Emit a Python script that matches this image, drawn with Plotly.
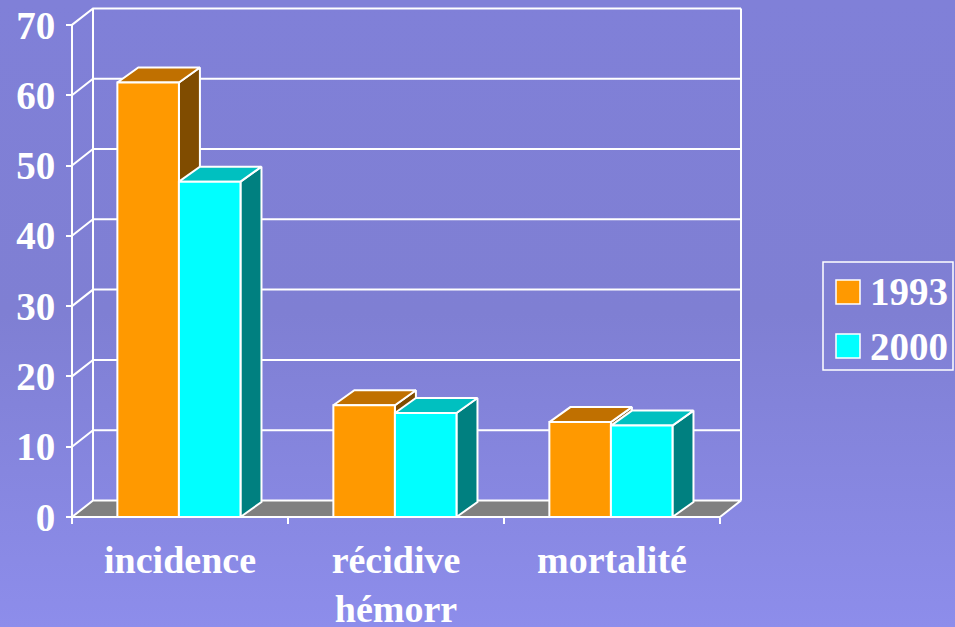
import base64

import plotly.graph_objects as go

categories = ['incidence', 'récidive<br>hémorr', 'mortalité']
series_names = ['1993', '2000']
values_1993 = [61.8, 15.9, 13.5]
values_2000 = [47.7, 14.8, 13.0]
y_ticks = [0, 10, 20, 30, 40, 50, 60, 70]

front_colors = ['#FF9900', '#00FFFF']
top_colors = ['#C07000', '#00C0C0']
side_colors = ['#804C00', '#008080']

W, H = 955, 627
ML, MR, MT, MB = 69, 211, 5, 107
PW, PH = W - ML - MR, H - MT - MB
PX_X = 216.0   # pixels per category
PX_Y = 7.03    # pixels per value unit
PAD = 3

# pseudo-3D depth, in axis units
wall_dx, wall_dy = 21 / PX_X, 16.5 / PX_Y
bar_dx, bar_dy = 21 / PX_X, 15 / PX_Y
bar_w = 0.285
group_shift = -0.005

x0 = -0.5 - PAD / PX_X
y0 = -PAD / PX_Y
x_range = [x0, x0 + PW / PX_X]
y_range = [y0, y0 + PH / PX_Y]
n = len(categories)
ymax = y_ticks[-1]


def px_x(p):
    return (p - ML) / PW


def px_y(p):
    return (H - MB - p) / PH


fig = go.Figure()

# back wall, left wall and grid
wx, wy = [], []
for v in y_ticks[1:]:
    wx += [-0.5, -0.5 + wall_dx, n - 0.5 + wall_dx, None]
    wy += [v, v + wall_dy, v + wall_dy, None]
wx += [-0.5 + wall_dx, -0.5 + wall_dx, None, n - 0.5 + wall_dx, n - 0.5 + wall_dx, None, -0.5, -0.5]
wy += [wall_dy, ymax + wall_dy, None, wall_dy, ymax + wall_dy, None, 0, ymax]
fig.add_trace(go.Scatter(x=wx, y=wy, mode='lines', line=dict(color='white', width=2),
                         hoverinfo='skip', showlegend=False))

# floor
fig.add_trace(go.Scatter(
    x=[-0.5, n - 0.5, n - 0.5 + wall_dx, -0.5 + wall_dx, -0.5],
    y=[0, 0, wall_dy, wall_dy, 0],
    mode='lines', fill='toself', fillcolor='#808080',
    line=dict(color='white', width=2), hoverinfo='skip', showlegend=False))


def face(xs, ys, color):
    fig.add_trace(go.Scatter(x=xs + [xs[0]], y=ys + [ys[0]], mode='lines', fill='toself',
                             fillcolor=color, line=dict(color='white', width=2),
                             hoverinfo='skip', showlegend=False))


for i in range(n):
    for s, vals in enumerate([values_1993, values_2000]):
        v = vals[i]
        left = i + group_shift + (s - 1) * bar_w
        right = left + bar_w
        face([right, right + bar_dx, right + bar_dx, right], [0, bar_dy, v + bar_dy, v], side_colors[s])
        face([left, right, right + bar_dx, left + bar_dx], [v, v, v + bar_dy, v + bar_dy], top_colors[s])
        face([left, right, right, left], [0, 0, v, v], front_colors[s])

# background gradient
svg = ('<svg xmlns="http://www.w3.org/2000/svg" width="955" height="627" preserveAspectRatio="none">'
       '<defs><linearGradient id="g" x1="0" y1="0" x2="0" y2="1">'
       '<stop offset="0" stop-color="#8080D8"/><stop offset="0.5" stop-color="#7F7FD3"/>'
       '<stop offset="1" stop-color="#8D8DEB"/></linearGradient></defs>'
       '<rect width="955" height="627" fill="url(#g)"/></svg>')
bg = 'data:image/svg+xml;base64,' + base64.b64encode(svg.encode()).decode()

font = dict(family='Liberation Serif, Times New Roman, serif', size=39, color='white', weight='bold')
xfont = dict(font, size=38)

# legend drawn by hand
shapes = [dict(type='rect', xref='paper', yref='paper', x0=px_x(823), x1=px_x(953),
               y0=px_y(370), y1=px_y(262), line=dict(color='white', width=1.5))]
annotations = []
for k, name in enumerate(series_names):
    top = 280 + k * 54
    shapes.append(dict(type='rect', xref='paper', yref='paper', x0=px_x(836), x1=px_x(860),
                       y0=px_y(top + 24), y1=px_y(top), fillcolor=front_colors[k],
                       line=dict(color='white', width=1.5)))
    annotations.append(dict(text=name, xref='paper', yref='paper', x=px_x(868), y=px_y(top + 12),
                            xanchor='left', yanchor='middle', showarrow=False, font=font))

fig.update_layout(
    width=W, height=H,
    margin=dict(l=ML, r=MR, t=MT, b=MB, pad=0, autoexpand=False),
    paper_bgcolor='#8484DC', plot_bgcolor='rgba(0,0,0,0)',
    showlegend=False,
    images=[dict(source=bg, xref='paper', yref='paper', x=px_x(0), y=px_y(0),
                 sizex=W / PW, sizey=H / PH, xanchor='left', yanchor='top',
                 sizing='stretch', layer='below')],
    xaxis=dict(range=x_range, showgrid=False, zeroline=False, showline=False,
               tickvals=list(range(n)), ticktext=categories,
               ticks='outside', ticklen=1, tickcolor='rgba(0,0,0,0)',
               ticklabelstandoff=8, tickfont=xfont, automargin=False,
               minor=dict(tickvals=[i - 0.5 for i in range(n + 1)], ticks='outside',
                          ticklen=6, tickwidth=2, tickcolor='white'),
               anchor='free', position=PAD / PH),
    yaxis=dict(range=y_range, showgrid=False, zeroline=False, showline=False,
               tickvals=y_ticks, ticks='outside', ticklen=6, tickwidth=2, tickcolor='white',
               ticklabelstandoff=3, tickfont=font, automargin=False,
               anchor='free', position=PAD / PW),
    shapes=shapes,
    annotations=annotations,
)

fig.write_html('out.html', config={'displayModeBar': False},
               post_script="document.body.style.margin='0';document.body.style.overflow='hidden';")
